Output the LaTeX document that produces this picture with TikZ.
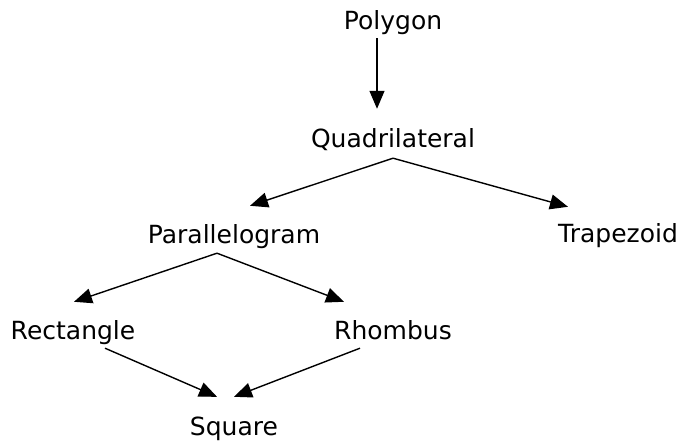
\documentclass[tikz,border=0pt]{standalone}
\usepackage{fontspec}
\setmainfont{DejaVu Sans}
\usetikzlibrary{arrows.meta}
\begin{document}
\begin{tikzpicture}[x=1pt,y=1pt,
  lbl/.style={anchor=base,inner sep=0pt,text height=20pt,text depth=6pt,font=\fontsize{25}{29}\selectfont},
  arr/.style={line width=1.4pt,-{Triangle[length=18pt,width=15pt]}}]
\useasboundingbox (0,0) rectangle (691,443);
\node[lbl] (poly) at (393,413) {Polygon};
\node[lbl] (quad) at (393,295) {Quadrilateral};
\node[lbl] (para) at (234,199) {Parallelogram};
\node[lbl] (trap) at (618,200) {Trapezoid};
\node[lbl] (rect) at (73,103) {Rectangle};
\node[lbl] (rhom) at (393,103) {Rhombus};
\node[lbl] (squ) at (234,7) {Square};
\draw[arr] ([shift={(-16,-2)}]poly.south) -- ([shift={(-16,19)}]quad.north);
\draw[arr] ([shift={(0,-4)}]quad.south) -- ([shift={(16,18)}]para.north);
\draw[arr] ([shift={(0,-4)}]quad.south) -- ([shift={(-50,16)}]trap.north);
\draw[arr] ([shift={(-17,-3)}]para.south) -- ([shift={(1,18)}]rect.north);
\draw[arr] ([shift={(-17,-3)}]para.south) -- ([shift={(-49,18)}]rhom.north);
\draw[arr] ([shift={(32,-2)}]rect.south) -- ([shift={(-17,19)}]squ.north);
\draw[arr] ([shift={(-33,-2)}]rhom.south) -- ([shift={(0,19)}]squ.north);
\end{tikzpicture}
\end{document}
